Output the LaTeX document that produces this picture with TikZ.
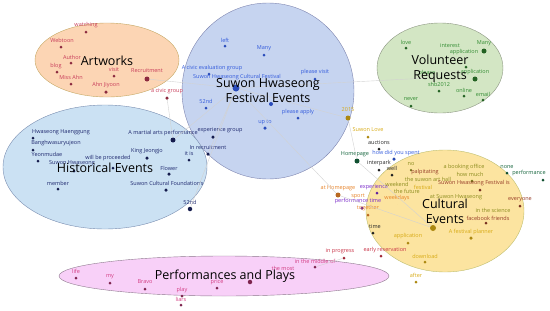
\documentclass[tikz,border=0pt]{standalone}
\usepackage{fontspec}
\setmainfont{Open Sans}
\definecolor{artfill}{RGB}{252,213,180}
\definecolor{artline}{RGB}{196,168,100}
\definecolor{festfill}{RGB}{198,212,240}
\definecolor{festline}{RGB}{125,132,175}
\definecolor{volfill}{RGB}{211,230,196}
\definecolor{volline}{RGB}{140,150,130}
\definecolor{histfill}{RGB}{203,225,243}
\definecolor{histline}{RGB}{120,140,175}
\definecolor{cultfill}{RGB}{252,228,160}
\definecolor{cultline}{RGB}{190,190,110}
\definecolor{perffill}{RGB}{248,208,248}
\definecolor{perfline}{RGB}{140,120,140}
\definecolor{arttext}{RGB}{200,60,90}
\definecolor{festtext}{RGB}{50,90,220}
\definecolor{voltext}{RGB}{50,140,50}
\definecolor{histtext}{RGB}{30,40,110}
\definecolor{perftext}{RGB}{210,60,130}
\definecolor{cy}{RGB}{215,170,20}
\definecolor{co}{RGB}{230,130,40}
\definecolor{cp}{RGB}{120,40,200}
\definecolor{cg}{RGB}{20,100,60}
\definecolor{cb}{RGB}{150,60,40}
\definecolor{ck}{RGB}{40,40,40}
\definecolor{cl}{RGB}{140,140,30}
\definecolor{cr}{RGB}{200,50,70}
\tikzset{
	dot/.style={circle, fill=#1, inner sep=0pt},
	word/.style={text=#1, inner sep=0.5pt, font=\fontsize{5.5}{6}\selectfont},
	title/.style={align=center, font=\fontsize{12.5}{15}\selectfont},
	edge/.style={draw=gray!35, line width=0.4pt}
}
\begin{document}
\begin{tikzpicture}[x=1pt, y=-1pt]
	\useasboundingbox (0,0) rectangle (550,311);
	% topic areas
	\draw[fill=artfill, draw=artline] (107,60) ellipse [x radius=72, y radius=37];
	\draw[fill=festfill, draw=festline] (268,91) ellipse [x radius=86, y radius=88];
	\draw[fill=volfill, draw=volline] (440,68) ellipse [x radius=63, y radius=45];
	\draw[fill=histfill, draw=histline] (105,167) ellipse [x radius=102, y radius=62];
	\draw[fill=cultfill, draw=cultline] (445,211) ellipse [x radius=79, y radius=61];
	\draw[fill=perffill, draw=perfline] (224,276) ellipse [x radius=165, y radius=20];
	% words
	\foreach \dx/\dy/\s/\lx/\ly/\t [count=\i] in {
		86/32/3/86/25/watching, 61/47/3/62/40/Webtoon, 71/63/3/72/57/Author,
		57/72/3/56/66/blog, 71/84/3/71/77/Miss Ahn, 106/92/3.5/106/85/Ahn Jiyoon,
		114/76/3/114/70/visit, 147/79/5/147/71/Recruitment, 167/98/3.5/167/91/a civic group}{
		\node[dot=arttext!70!black, minimum size=\s pt] (a\i) at (\dx,\dy) {};
		\node[word=arttext] (al\i) at (\lx,\ly) {\t};
	}
	\foreach \dx/\dy/\s/\lx/\ly/\t [count=\i] in {
		225/46/3/225/40/left, 264/55/3/264/48/Many,
		209/74/3/212/68/A civic evaluation group,
		236/88/7/237/77/Suwon Hwaseong Cultural Festival,
		315/79/3/315/72/please visit, 206/108/3/206/101/52nd,
		298/118/3/298/112/please apply, 265/128/3.5/265/122/up to, 271/104/4/271/98/{}}{
		\node[dot=festtext!85!black, minimum size=\s pt] (f\i) at (\dx,\dy) {};
		\node[word=festtext] (fl\i) at (\lx,\ly) {\t};
	}
	\foreach \dx/\dy/\s/\lx/\ly/\t [count=\i] in {
		406/48/3/406/42/love, 450/52/0/450/46/interest, 484/51/5/484/43/Many,
		466/67/3/464/52/application, 428/78/0/427/73/please,
		475/79/5/475/72/application, 439/91/3/439/84/shb2012,
		464/96/3/464/90/online, 483/100/3/483/94/email, 411/106/3/411/99/never}{
		\node[dot=voltext!70!black, minimum size=\s pt] (v\i) at (\dx,\dy) {};
		\node[word=voltext] (vl\i) at (\lx,\ly) {\t};
	}
	\foreach \dx/\dy/\s/\lx/\ly/\t [count=\i] in {
		33/138/3/61/132/Hwaseong Haenggung, 33/150/3/56/143/Banghwasuryujeon,
		38/161/3/47/154/Yeonmudae, 74/171/3/72/163/Suwon Hwaseong,
		113/168/3/108/158/will be proceeded, 58/189/3/58/183/member,
		173/140/5/163/133/A martial arts performance, 147/158/3.5/147/151/King Jeongjo,
		189/160/3/189/154/it is, 169/174/3.5/169/168/Flower,
		166/190/3.5/167/183/Suwon Cultural Foundation's, 190/209/4.5/190/202/52nd,
		213/137/3.5/220/130/experience group, 208/154/3.5/208/148/In recruitment}{
		\node[dot=histtext!70!black, minimum size=\s pt] (h\i) at (\dx,\dy) {};
		\node[word=histtext] (hl\i) at (\lx,\ly) {\t};
	}
	\foreach \dx/\dy/\s/\lx/\ly/\c/\t [count=\i] in {
		348/118/5/348/110/cy/2015, 368/137/3/368/130/cy/Suwon Love,
		379/149/3/379/143/ck/auctions, 357/161/5/355/154/cg/Homepage,
		394/159/3.5/396/153/festtext/how did you spent, 379/170/3/379/163/ck/interpark,
		392/175/3/392/168/ck/well, 411/170/2.5/411/164/cl/no,
		425/178/0/425/172/cb/palpitating, 464/173/0/464/167/cl/a booking office,
		472/181/3/470/174/cl/how much, 428/185/0/428/179/cl/the suwon art hall,
		480/190/3/474/183/cb/Suwon Hwaseong Festival is, 507/173/3/507/167/cg/none,
		543/180/3/529/173/cg/performance, 338/195/5/338/188/co/at Homepage,
		358/202/0/358/196/co/sport, 377/193/3/374/187/cp/experience,
		397/190/0/397/184/cl/weekend, 407/197/0/407/191/cl/the future,
		423/193/0/423/187/cy/festival, 397/204/0/397/198/co/weekdays,
		362/208/3.5/358/201/cp/performance time, 368/215/3/368/208/co/together,
		456/203/0/456/197/cl/at Suwon Hwaseong, 520/206/3/520/200/cb/everyone,
		493/216/0/493/210/cl/in the science, 486/223/3/488/218/cb/facebook friends,
		471/238/3.5/471/232/cy/A festival planner, 373/233/3/375/227/ck/time,
		408/243/3/408/236/cy/application, 425/262/3/425/256/cy/download,
		344/258/3/340/251/cr/in progress, 381/256/3/385/250/cr/early reservation,
		416/282/3/416/275/cy/after, 433/228/6/433/222/cy/{}}{
		\node[dot=\c!80!black, minimum size=\s pt] (c\i) at (\dx,\dy) {};
		\node[word=\c] (cl\i) at (\lx,\ly) {\t};
	}
	\foreach \dx/\dy/\s/\lx/\ly/\t [count=\i] in {
		76/278/3/76/271/life, 110/283/3/110/277/my, 145/289/3/145/282/Bravo,
		182/296/3/182/290/play, 181/305/3/181/299/liars, 217/288/3/217/282/price,
		250/282/4.5/250/276/{}, 283/274/0/283/268/the most,
		315/267/3/315/261/in the middle of}{
		\node[dot=perftext!60!black, minimum size=\s pt] (p\i) at (\dx,\dy) {};
		\node[word=perftext] (pl\i) at (\lx,\ly) {\t};
	}
	% links
	\draw[edge] (f4) -- (c1) (f4) -- (c16) (f4) -- (h7) (f4) -- (h14) (f4) -- (h12)
		(h7) -- (a9) (f4) -- (v5) (c1) -- (c4) (c16) -- (c36) (c4) -- (c36)
		(p9) -- (c33) (a8) -- (f4);
	% topic names
	\node[title] (tart) at (107,61) {Artworks};
	\node[title] (tfest) at (268,91) {Suwon Hwaseong\\Festival Events};
	\node[title] (tvol) at (440,69) {Volunteer\\Requests};
	\node[title] (thist) at (105,168) {Historical Events};
	\node[title] (tcult) at (445,211) {Cultural\\Events};
	\node[title] (tperf) at (225,276) {Performances and Plays};
\end{tikzpicture}
\end{document}
